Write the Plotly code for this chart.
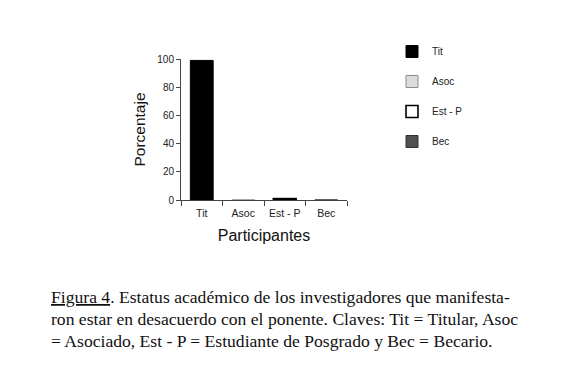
import plotly.graph_objects as go

categories = ["Tit", "Asoc", "Est - P", "Bec"]
values = [99, 0, 1, 0]
series_names = ["Tit", "Asoc", "Est - P", "Bec"]
fill_colors = ["#000000", "#dcdcdc", "#ffffff", "#505050"]
line_colors = ["#000000", "#8c8c8c", "#000000", "#303030"]
line_widths = [1, 1, 1.6, 1]
y_ticks = [0, 20, 40, 60, 80, 100]
caption_lines = [
    "<u>Figura 4</u>. Estatus académico de los investigadores que manifesta-",
    "ron estar en desacuerdo con el ponente. Claves: Tit = Titular, Asoc",
    "= Asociado, Est - P = Estudiante de Posgrado y Bec = Becario.",
]

OFF = 8  # default page body margin
W, H = 567, 379
# plot area in page pixels: x 181..347, y 59..200
L, R, T, B = 181 - OFF, W - 347 + OFF, 59 - OFF, H - 200 + OFF
ph = H - T - B
pw = W - L - R

def py(p):  # page pixel y -> paper
    return (H - B - (p - OFF)) / ph

def px(p):  # page pixel x -> paper
    return ((p - OFF) - L) / pw

fig = go.Figure()
for i, name in enumerate(series_names):
    fig.add_trace(go.Bar(
        x=[categories[i]], y=[values[i]], name=name,
        legendgroup=name,
        width=0.55,
        marker=dict(color=fill_colors[i], line=dict(color=line_colors[i], width=line_widths[i])),
    ))

fig.update_layout(
    width=W, height=H,
    margin=dict(l=L, r=R, t=T, b=B, autoexpand=False),
    paper_bgcolor="white", plot_bgcolor="white",
    barmode="overlay",
    font=dict(family="Liberation Sans, Arial, sans-serif", color="#222"),
    showlegend=True,
    legend=dict(
        x=px(392), y=py(37), xanchor="left", yanchor="top",
        font=dict(size=10, color="#222"),
        tracegroupgap=11, bgcolor="rgba(0,0,0,0)",
        itemwidth=30,
    ),
    xaxis=dict(
        categoryorder="array", categoryarray=categories,
        showline=True, linecolor="#444", linewidth=1,
        ticks="outside", tickson="boundaries", ticklen=5, tickcolor="#444",
        ticklabelstandoff=3,
        tickfont=dict(size=10.5, color="#222"),
        title=dict(text="Participantes", font=dict(size=16, color="#111"), standoff=12),
        showgrid=False, zeroline=False,
    ),
    yaxis=dict(
        range=[0, 100], tickvals=y_ticks,
        showline=True, linecolor="#444", linewidth=1,
        ticks="outside", ticklen=4, tickcolor="#444",
        tickfont=dict(size=10, color="#222"),
        title=dict(text="Porcentaje", font=dict(size=15.5, color="#111"), standoff=7),
        showgrid=False, zeroline=False,
    ),
)

for k, line in enumerate(caption_lines):
    fig.add_annotation(
        text=line, xref="paper", yref="paper",
        x=px(49), y=py(297 + 22 * k), xanchor="left", yanchor="middle",
        showarrow=False,
        font=dict(family="Liberation Serif, Times New Roman, serif", size=17.6, color="#111"),
    )

fig.write_html("out.html")
